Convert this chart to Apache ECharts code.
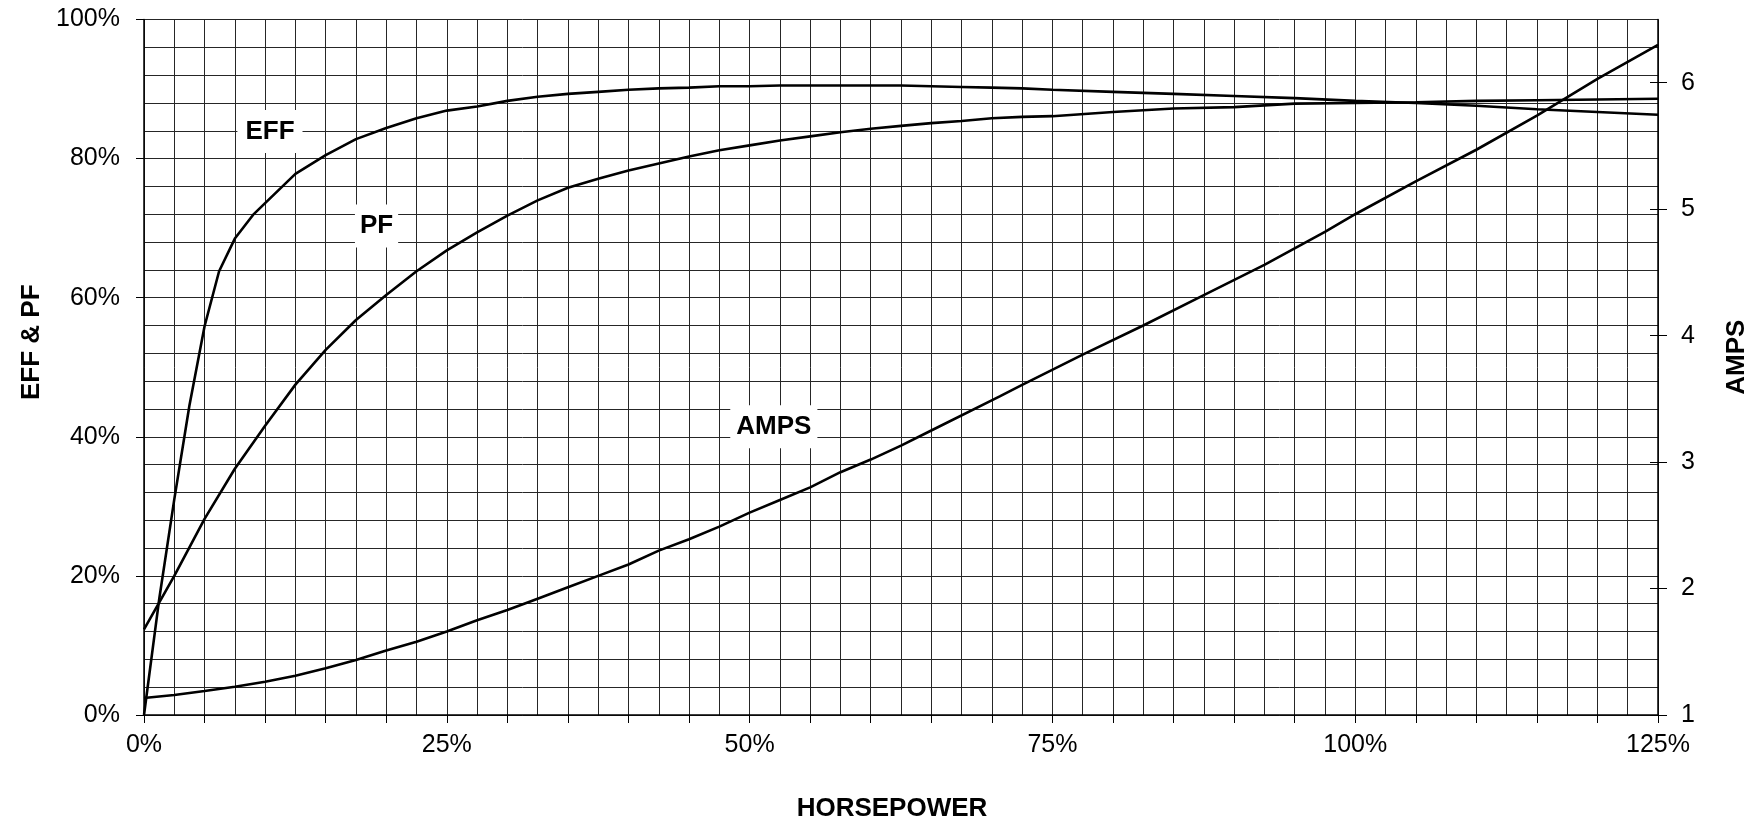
<!DOCTYPE html>
<html>
<head>
<meta charset="utf-8">
<script src="https://cdn.jsdelivr.net/npm/echarts@6/dist/echarts.min.js"></script>
<style>
html,body{margin:0;padding:0;background:#fff;}
#chart{width:1759px;height:825px;}
</style>
</head>
<body>
<div id="chart"></div>
<script>
// Horsepower (%) and curve values
const effData = [[0,0],[1.25,16.6],[2.5,31],[3.75,44.5],[5,55.9],[6.2,63.8],[7.5,68.5],[9,71.9],[10,73.6],[12.5,77.8],[15,80.5],[17.5,82.8],[20,84.4],[22.5,85.8],[25,86.9],[27.5,87.5],[30,88.3],[32.5,88.9],[35,89.3],[37.5,89.6],[40,89.9],[42.5,90.1],[45,90.2],[47.5,90.4],[50,90.4],[52.5,90.5],[55,90.5],[57.5,90.5],[60,90.5],[62.5,90.5],[65,90.4],[67.5,90.3],[70,90.2],[72.5,90.1],[75,89.9],[80,89.6],[85,89.3],[90,89.0],[95,88.7],[100,88.3],[105,88.0],[110,87.6],[115,87.1],[120,86.7],[125,86.3]];
const pfData = [[0,12.3],[2.5,20],[5,28.2],[7.5,35.4],[10,41.6],[12.5,47.5],[15,52.5],[17.5,56.8],[20,60.4],[22.5,63.8],[25,66.8],[27.5,69.4],[30,71.8],[32.5,74.0],[35,75.8],[37.5,77.1],[40,78.3],[42.5,79.3],[45,80.3],[47.5,81.2],[50,81.9],[52.5,82.6],[55,83.2],[57.5,83.8],[60,84.3],[62.5,84.7],[65,85.1],[67.5,85.4],[70,85.8],[72.5,86.0],[75,86.1],[80,86.7],[85,87.2],[90,87.4],[95,87.9],[100,88.0],[105,88.1],[110,88.3],[115,88.4],[120,88.5],[125,88.6]];
const ampsData = [[0,1.135],[2.5,1.158],[5,1.19],[7.5,1.224],[10,1.263],[12.5,1.31],[15,1.37],[17.5,1.435],[20,1.51],[22.5,1.58],[25,1.66],[27.5,1.75],[30,1.83],[32.5,1.92],[35,2.01],[37.5,2.10],[40,2.19],[42.5,2.30],[45,2.39],[47.5,2.49],[50,2.60],[52.5,2.70],[55,2.80],[57.5,2.92],[60,3.02],[62.5,3.13],[65,3.25],[70.65,3.52],[72.5,3.61],[77.5,3.85],[82.5,4.08],[87.5,4.32],[92.5,4.56],[97.5,4.82],[100,4.96],[105,5.22],[110,5.47],[115,5.74],[120,6.03],[125,6.30]];
const xLabelValues = [0,25,50,75,100,125];
const ampTicks = [1,2,3,4,5,6];
// in-chart curve labels: [x (% HP), y on the curve's own axis]
const effLabelAt = [10.4, 83.9];
const pfLabelAt = [19.2, 70.3];
const ampsLabelAt = [52.0, 3.28];

const FONT = '"Liberation Sans", Arial, sans-serif';
const gridLine = {color:'#262626', width:1};

function curveLabel(text, at, pad){
  return {
    symbol:'rect', symbolSize:1, silent:true,
    itemStyle:{color:'rgba(0,0,0,0)'},
    label:{show:true, position:'inside', formatter:text, color:'#000', fontFamily:FONT, fontWeight:'bold', fontSize:26,
      backgroundColor:'#fff', padding:pad},
    data:[{coord:at}]
  };
}

const chart = echarts.init(document.getElementById('chart'), null, {renderer:'canvas'});
chart.setOption({
  animation:false,
  backgroundColor:'#fff',
  grid:{left:144, right:101, top:19.5, bottom:110, containLabel:false, outerBoundsMode:'none'},
  xAxis:{
    type:'value', min:0, max:125, interval:5,
    name:'HORSEPOWER', nameLocation:'middle', nameGap:81,
    nameTextStyle:{color:'#000', fontFamily:FONT, fontWeight:'bold', fontSize:26, padding:[0,18,0,0]},
    axisLine:{show:true, lineStyle:{color:'#000', width:1.5}},
    axisTick:{show:true, length:8, lineStyle:{color:'#000', width:1}},
    axisLabel:{color:'#000', fontFamily:FONT, fontSize:25, margin:18,
      formatter:v => xLabelValues.indexOf(v) >= 0 ? v + '%' : ''},
    splitLine:{show:true, lineStyle:gridLine},
    minorTick:{show:false, splitNumber:2},
    minorSplitLine:{show:true, lineStyle:gridLine}
  },
  yAxis:[
    {
      type:'value', min:0, max:100, interval:20, position:'left',
      name:'EFF & PF', nameLocation:'middle', nameGap:96, nameRotate:90,
      nameTextStyle:{color:'#000', fontFamily:FONT, fontWeight:'bold', fontSize:26, padding:[0,0,0,50]},
      axisLine:{show:true, lineStyle:{color:'#000', width:1.5}},
      axisTick:{show:true, length:8, lineStyle:{color:'#000'}},
      axisLabel:{color:'#000', fontFamily:FONT, fontSize:25, margin:24, formatter:v => v + '%'},
      splitLine:{show:true, lineStyle:gridLine},
      minorTick:{show:false, splitNumber:5},
      minorSplitLine:{show:true, lineStyle:gridLine}
    },
    {
      type:'value', min:1, max:6.5, interval:1, position:'right',
      name:'AMPS', nameLocation:'middle', nameGap:66, nameRotate:90,
      nameTextStyle:{color:'#000', fontFamily:FONT, fontWeight:'bold', fontSize:26, padding:[0,0,0,20]},
      axisLine:{show:true, lineStyle:{color:'#000', width:1.5}},
      axisTick:{show:true, length:9, customValues:ampTicks, lineStyle:{color:'#000'}},
      axisLabel:{color:'#000', fontFamily:FONT, fontSize:25, margin:23, customValues:ampTicks},
      splitLine:{show:false}
    },
    {
      type:'value', min:1, max:6.5, interval:1, position:'right', offset:0,
      axisLine:{show:false},
      axisTick:{show:true, inside:true, length:8, customValues:ampTicks, lineStyle:{color:'#000'}},
      axisLabel:{show:false},
      splitLine:{show:false}
    }
  ],
  series:[
    {name:'EFF', type:'line', data:effData, yAxisIndex:0, showSymbol:false, symbol:'none',
      lineStyle:{color:'#000', width:2.6}, markPoint:curveLabel('EFF', effLabelAt, [9,8,8,8])},
    {name:'PF', type:'line', data:pfData, yAxisIndex:0, showSymbol:false, symbol:'none',
      lineStyle:{color:'#000', width:2.6}, markPoint:curveLabel('PF', pfLabelAt, [9,5,8,5])},
    {name:'AMPS', type:'line', data:ampsData, yAxisIndex:1, showSymbol:false, symbol:'none',
      lineStyle:{color:'#000', width:2.6}, markPoint:curveLabel('AMPS', ampsLabelAt, [9,6,8,6])}
  ]
});
</script>
</body>
</html>
